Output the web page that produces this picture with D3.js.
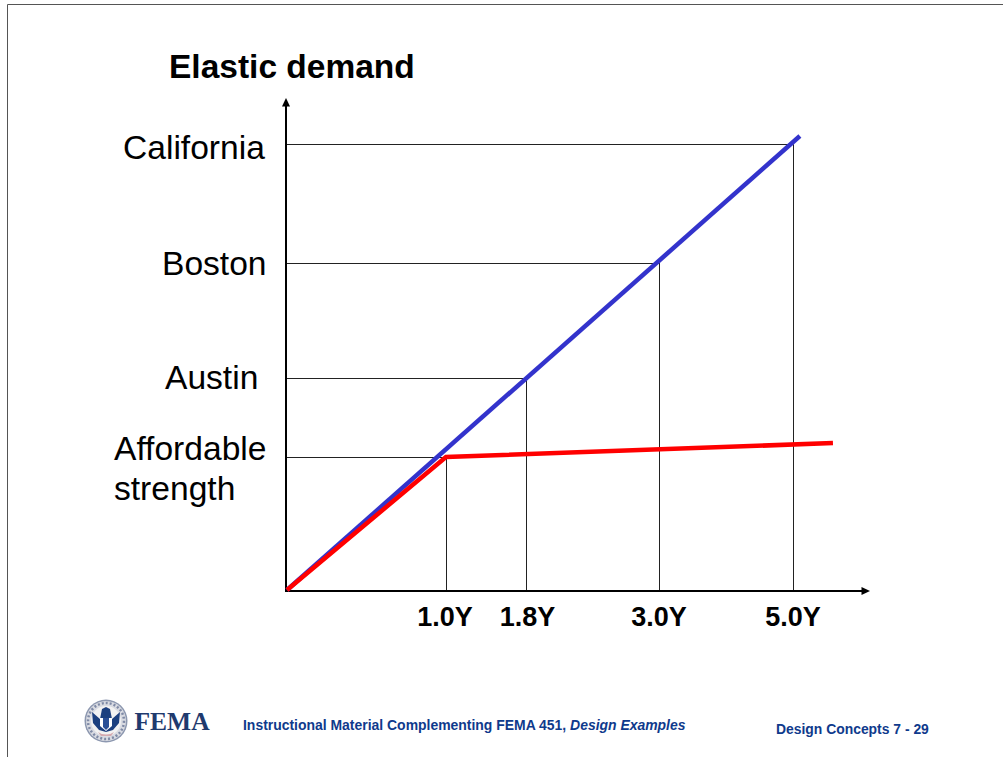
<!DOCTYPE html>
<html><head><meta charset="utf-8">
<script src="https://cdn.jsdelivr.net/npm/d3@7"></script>
<style>html,body{margin:0;padding:0;background:#fff}svg{display:block}text{font-family:"Liberation Sans",Arial,sans-serif}</style>
</head><body><div id="c"></div>
<script>
// Drawn positions in schematic units (1 x-unit = elastic displacement of the 1.0Y mark; 1 y-unit = affordable strength)
const xTickLabels = ["1.0Y","1.8Y","3.0Y","5.0Y"];
const xTickValues = [1.0,1.503,2.340,3.182];
const yCategories = ["Affordable","Austin","Boston","California"];
const yValues = [1.0,1.594,2.459,3.353];
const blueX = [0,3.226];
const blueY = [0,3.414];
const redX = [0,1.0,3.434];
const redY = [0,1.0,1.105];
const axisMaxX = 3.667, axisMaxY = 3.70;

const svg = d3.select("#c").append("svg").attr("width",1003).attr("height",757);
const x = d3.scaleLinear().domain([0,axisMaxX]).range([287,870]);
const y = d3.scaleLinear().domain([0,axisMaxY]).range([590,98]);
const line = d3.line().x(d=>x(d[0])).y(d=>y(d[1]));

// slide frame
svg.append("path").attr("d","M1003,4.5H7.5V757").attr("fill","none").attr("stroke","#555").attr("stroke-width",1);

// title
svg.append("text").attr("x",169).attr("y",78).attr("font-size",33.5).attr("font-weight","bold").text("Elastic demand");

// guide lines
yValues.forEach((v,i)=>{
  const xEnd = xTickValues[i];
  svg.append("line").attr("x1",x(0)).attr("x2",x(xEnd)).attr("y1",Math.round(y(v))+.5).attr("y2",Math.round(y(v))+.5)
    .attr("stroke","#222").attr("stroke-width",1);
  svg.append("line").attr("x1",Math.round(x(xEnd))+.5).attr("x2",Math.round(x(xEnd))+.5).attr("y1",y(v)).attr("y2",y(0))
    .attr("stroke","#222").attr("stroke-width",1);
});

// axes
const ax = x(0)-1, ay = y(0)+1;
svg.append("line").attr("x1",ax).attr("x2",ax).attr("y1",ay+1).attr("y2",y(axisMaxY)+8).attr("stroke","#000").attr("stroke-width",2);
svg.append("line").attr("x1",ax-1).attr("x2",x(axisMaxX)-8).attr("y1",ay).attr("y2",ay).attr("stroke","#000").attr("stroke-width",2);
svg.append("path").attr("d",d3.line()([[ax,y(axisMaxY)],[ax-4,y(axisMaxY)+8.5],[ax+4,y(axisMaxY)+8.5]])+"Z");
svg.append("path").attr("d",d3.line()([[x(axisMaxX),ay],[x(axisMaxX)-8.5,ay-4],[x(axisMaxX)-8.5,ay+4]])+"Z");

// demand and strength lines
svg.append("path").datum(d3.zip(blueX,blueY)).attr("d",line).attr("fill","none").attr("stroke","#3333cc").attr("stroke-width",4.5);
svg.append("path").datum(d3.zip(redX,redY)).attr("d",line).attr("fill","none").attr("stroke","#ff0000").attr("stroke-width",4.5).attr("stroke-linejoin","miter");

// y labels
const lab = (t,xp,yp)=>svg.append("text").attr("x",xp).attr("y",yp).attr("font-size",33.6).text(t);
lab("California",123,159);
lab("Boston",162,275);
lab("Austin",165,389);
lab("Affordable",114,460);
lab("strength",114,500);

// x tick labels
xTickLabels.forEach((t,i)=>{
  svg.append("text").attr("x",[445,527.5,659,793][i]).attr("y",626).attr("text-anchor","middle")
    .attr("font-size",27).attr("font-weight","bold").text(t);
});

// footer logo
const navy="#1f3a6e";
const blur = svg.append("defs").append("filter").attr("id","soft");
blur.append("feGaussianBlur").attr("stdDeviation",0.7);
const g = svg.append("g").attr("transform","translate(106,721)").attr("filter","url(#soft)");
g.append("circle").attr("r",21.5).attr("fill","#8d98b0");
g.append("circle").attr("r",20).attr("fill","#d9dbe2");
g.append("circle").attr("r",18).attr("fill","none").attr("stroke","#7f8aa6").attr("stroke-width",2.5).attr("stroke-dasharray","2 2");
g.append("circle").attr("r",15).attr("fill","#f2f2f2");
g.append("path").attr("d","M-14,-9L-6,-2L-4,-12L0,-14L4,-12L6,-2L14,-9L13,2L7,9L0,11L-7,9L-13,2Z").attr("fill","#1f3f7f");
g.append("path").attr("d","M-6,-3H6V5L0,10L-6,5Z").attr("fill","#fff");
g.append("path").attr("d","M-3,-3H3V6L0,9L-3,6Z").attr("fill","#2c4f96");
g.append("path").attr("d","M-8,11A14,14 0 0 0 8,11L5,15H-5Z").attr("fill","#d5aab0");
svg.append("text").attr("x",134.5).attr("y",730).style("font-family","'Liberation Serif',serif").attr("font-size",25.5).attr("font-weight","bold").attr("fill",navy).text("FEMA");

// footer text
const footC = "#0f3a8c";
const f = svg.append("text").attr("x",243).attr("y",730).attr("font-size",13.95).attr("font-weight","bold").attr("fill",footC);
f.append("tspan").text("Instructional Material Complementing FEMA 451, ");
f.append("tspan").attr("font-style","italic").text("Design Examples");
svg.append("text").attr("x",776).attr("y",734).attr("font-size",13.9).attr("font-weight","bold").attr("fill",footC).text("Design Concepts 7 - 29");
</script></body></html>
